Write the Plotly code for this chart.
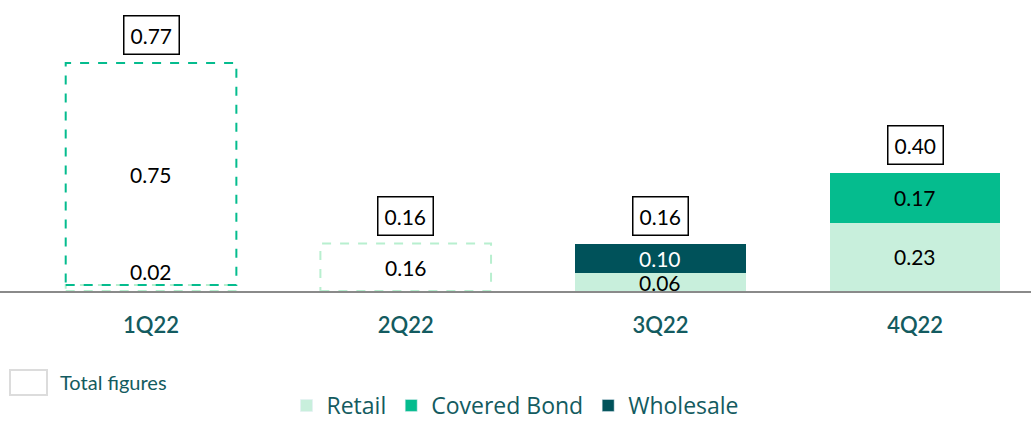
import plotly.graph_objects as go

# ---- data ----
quarters = ["1Q22", "2Q22", "3Q22", "4Q22"]
retail = [0.02, 0.16, 0.06, 0.23]
covered_bond = [0.75, 0.00, 0.00, 0.17]
wholesale = [0.00, 0.00, 0.10, 0.00]
totals = [0.77, 0.16, 0.16, 0.40]
outlined = [True, True, False, False]  # quarters drawn as dashed outlines

series = [
    ("Retail", retail, "#C8EFDC", "#B8EFCF", "black"),
    ("Covered Bond", covered_bond, "#05BC8E", "#05BC8E", "black"),
    ("Wholesale", wholesale, "#00525A", "#00525A", "white"),
]

BAR_W = 0.67
NUM_FONT = "Lato"
TEAL = "#135B60"

fig = go.Figure()
annotations = []
shapes = []
bases = [0.0] * len(quarters)

for name, vals, color, dashcol, txtcol in series:
    fills = ["rgba(255,255,255,0)" if o else color for o in outlined]
    fig.add_trace(go.Bar(
        x=list(range(len(quarters))), y=vals, name=name,
        marker=dict(color=fills, line=dict(width=0)),
        width=BAR_W, showlegend=False, hoverinfo="skip",
    ))
    # legend proxy with solid color
    fig.add_trace(go.Bar(
        x=[None], y=[None], name=name, marker=dict(color=color),
        showlegend=True,
    ))
    for i, v in enumerate(vals):
        if v <= 0:
            continue
        b = bases[i]
        if outlined[i]:
            shapes.append(dict(
                type="rect", xref="x", yref="y",
                x0=i - BAR_W / 2, x1=i + BAR_W / 2, y0=b, y1=b + v,
                line=dict(color=dashcol, width=2, dash="dash"),
                fillcolor="rgba(0,0,0,0)", layer="above",
            ))
        ymid = b + v / 2
        if v < 0.05:
            ymid = b + 0.065
        annotations.append(dict(
            x=i, y=ymid, xref="x", yref="y", text=f"{v:.2f}",
            showarrow=False, font=dict(family=NUM_FONT, size=21,
                                       color=txtcol if not outlined[i] else "black"),
        ))
        bases[i] = b + v

for i, t in enumerate(totals):
    annotations.append(dict(
        x=i, y=t, xref="x", yref="y", text=f"{t:.2f}", showarrow=False,
        yanchor="bottom", yshift=8,
        font=dict(family=NUM_FONT, size=21, color="black"),
        bordercolor="black", borderwidth=1.5, borderpad=6, bgcolor="white",
    ))

# "Total figures" key
shapes.append(dict(
    type="rect", xref="paper", yref="paper",
    x0=0.0097, x1=0.0456, y0=-0.370, y1=-0.281,
    line=dict(color="#DCDCDC", width=2), fillcolor="white",
))
annotations.append(dict(
    x=0.056, y=-0.3255, xref="paper", yref="paper", text="Total figures",
    showarrow=False, xanchor="left", yanchor="middle",
    font=dict(family="Lato", size=20, color=TEAL),
))

fig.update_layout(
    width=1031, height=427,
    margin=dict(l=0, r=0, t=10, b=136, autoexpand=False),
    plot_bgcolor="white", paper_bgcolor="white",
    barmode="stack", bargap=0,
    showlegend=True,
    legend=dict(orientation="h", x=0.5, xanchor="center",
                yref="container", y=0.0, yanchor="bottom",
                font=dict(family="Open Sans", size=23, color=TEAL),
                itemwidth=30, traceorder="normal"),
    annotations=annotations, shapes=shapes,
    xaxis=dict(
        tickmode="array", tickvals=list(range(len(quarters))), ticktext=quarters,
        range=[-0.593, 3.455], showgrid=False, zeroline=False,
        showline=True, linecolor="#8A8A8A", linewidth=2,
        ticks="", ticklabelstandoff=14, automargin=False,
        tickfont=dict(family="Lato", size=22, color=TEAL, weight=600),
    ),
    yaxis=dict(range=[0, 0.949], visible=False, showgrid=False, zeroline=False,
               automargin=False),
)

fig.write_html("out.html", config={"displayModeBar": False},
               post_script="document.body.style.margin='0';")
